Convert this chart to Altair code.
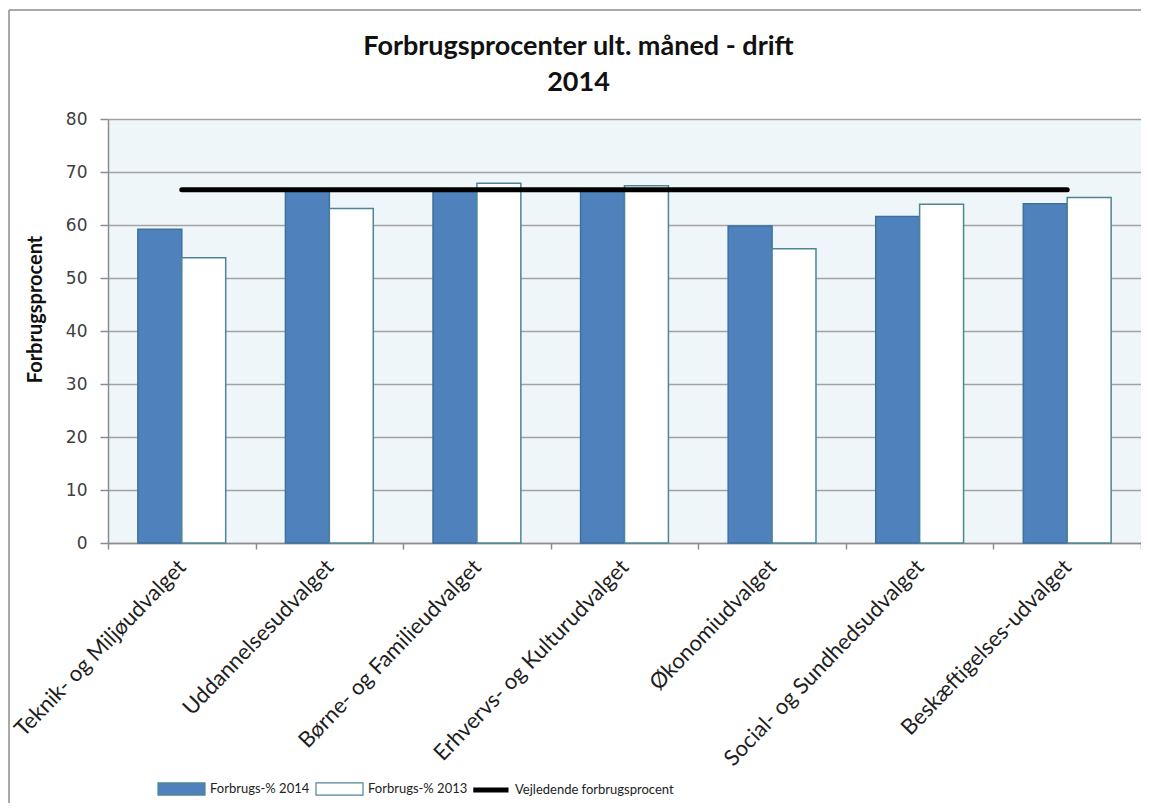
import altair as alt
import pandas as pd

categories = [
    "Teknik- og Miljøudvalget",
    "Uddannelsesudvalget",
    "Børne- og Familieudvalget",
    "Erhvervs- og Kulturudvalget",
    "Økonomiudvalget",
    "Social- og Sundhedsudvalget",
    "Beskæftigelses-udvalget",
]
values_2014 = [59.2, 66.5, 66.5, 66.5, 59.8, 61.6, 64.0]
values_2013 = [53.8, 63.1, 67.9, 67.4, 55.5, 63.9, 65.2]
guide_values = [66.67] * 7
bar_series = ["Forbrugs-% 2014", "Forbrugs-% 2013"]
line_series = ["Vejledende forbrugsprocent"]
y_ticks = [0, 10, 20, 30, 40, 50, 60, 70, 80]

bar_df = pd.DataFrame(
    {
        "cat": categories * 2,
        "series": [bar_series[0]] * 7 + [bar_series[1]] * 7,
        "value": values_2014 + values_2013,
    }
)
line_df = pd.DataFrame({"cat": categories, "series": line_series[0], "value": guide_values})
frame_df = pd.DataFrame({"k": [0]})

rect_path = "M-1,-0.26L1,-0.26L1,0.26L-1,0.26Z"
line_path = "M-0.5,0L1,0"

x_enc = alt.X(
    "cat:N",
    sort=categories,
    scale=alt.Scale(paddingInner=0, paddingOuter=0),
    axis=alt.Axis(
        title=None,
        labelAngle=-46,
        labelAlign="right",
        labelBaseline="middle",
        labelPadding=14,
        labelLimit=500,
        tickBand="extent",
        grid=False,
        domainColor="#8C8C8C",
        domainWidth=1.5,
        tickColor="#8C8C8C",
        tickWidth=1.5,
        tickSize=6,
        labelFont="Lato",
        labelFontSize=22,
        labelColor="#1E1E1E",
    ),
)

y_enc = alt.Y(
    "value:Q",
    scale=alt.Scale(domain=[0, 80], nice=False),
    axis=alt.Axis(
        values=y_ticks,
        title="Forbrugsprocent",
        titleFont="Lato",
        titleFontWeight="bold",
        titleFontSize=20,
        titleColor="#111111",
        titleAngle=-90,
        titleX=-73,
        titleY=190,
        titleAlign="center",
        titleBaseline="middle",
        grid=True,
        gridColor="#A2A2A2",
        gridWidth=1.5,
        domainColor="#8C8C8C",
        domainWidth=1.5,
        tickColor="#8C8C8C",
        tickWidth=1.5,
        tickSize=8,
        labelFont="DejaVu Sans",
        labelFontSize=17,
        labelColor="#404040",
        labelPadding=13,
    ),
)

bars = (
    alt.Chart(bar_df)
    .mark_bar(strokeWidth=1.5)
    .encode(
        x=x_enc,
        xOffset=alt.XOffset(
            "series:N",
            sort=bar_series,
            scale=alt.Scale(domain=bar_series, paddingOuter=0.68, paddingInner=0),
        ),
        y=y_enc,
        fill=alt.Fill(
            "series:N",
            scale=alt.Scale(domain=bar_series, range=["#4F81BD", "#FFFFFF"]),
            legend=alt.Legend(
                title=None,
                orient="none",
                legendX=49,
                legendY=645,
                direction="horizontal",
                columns=2,
                columnPadding=3,
                symbolType=rect_path,
                symbolSize=2209,
                symbolStrokeWidth=1.2,
                symbolStrokeColor="#4E8595",
                labelFont="Lato",
                labelFontSize=13,
                labelColor="#222222",
                labelOffset=4,
                labelLimit=300,
            ),
        ),
        stroke=alt.Stroke(
            "series:N",
            scale=alt.Scale(domain=bar_series, range=["#3F6F9E", "#4E8595"]),
            legend=None,
        ),
    )
)

line = (
    alt.Chart(line_df)
    .mark_line(strokeWidth=5, strokeCap="round")
    .encode(
        x=alt.X("cat:N", sort=categories),
        y="value:Q",
        color=alt.Color(
            "series:N",
            scale=alt.Scale(domain=line_series, range=["#000000"]),
            legend=alt.Legend(
                title=None,
                orient="none",
                legendX=351,
                legendY=645,
                direction="horizontal",
                symbolType=line_path,
                symbolSize=2209,
                symbolStrokeWidth=5,
                labelFont="Lato",
                labelFontSize=13,
                labelColor="#222222",
                labelOffset=4,
                labelLimit=300,
            ),
        ),
    )
)

frame_left = alt.Chart(frame_df).mark_rule(color="#8C8C8C", strokeWidth=1.5).encode(
    x=alt.value(-99), y=alt.value(-109), y2=alt.value(700)
)
frame_top = alt.Chart(frame_df).mark_rule(color="#8C8C8C", strokeWidth=1.5).encode(
    x=alt.value(-99), x2=alt.value(1100), y=alt.value(-109)
)

chart = (
    alt.layer(bars, line, frame_left, frame_top)
    .resolve_scale(stroke="independent", color="independent")
    .properties(
        width=1033,
        height=424,
        autosize=alt.AutoSizeParams(type="none"),
        padding={"left": 100, "top": 111, "right": 0, "bottom": 260},
        background="white",
        title=alt.TitleParams(
            text=["Forbrugsprocenter ult. måned - drift", "2014"],
            font="Lato",
            fontSize=27,
            fontWeight="bold",
            color="#111111",
            anchor="middle",
            frame="group",
            dx=-46,
            lineHeight=36,
            offset=-88,
        ),
    )
    .configure_view(fill="#EEF6FA", stroke=None)
)

chart.save("out.html", embed_options={"renderer": "svg", "actions": False})
